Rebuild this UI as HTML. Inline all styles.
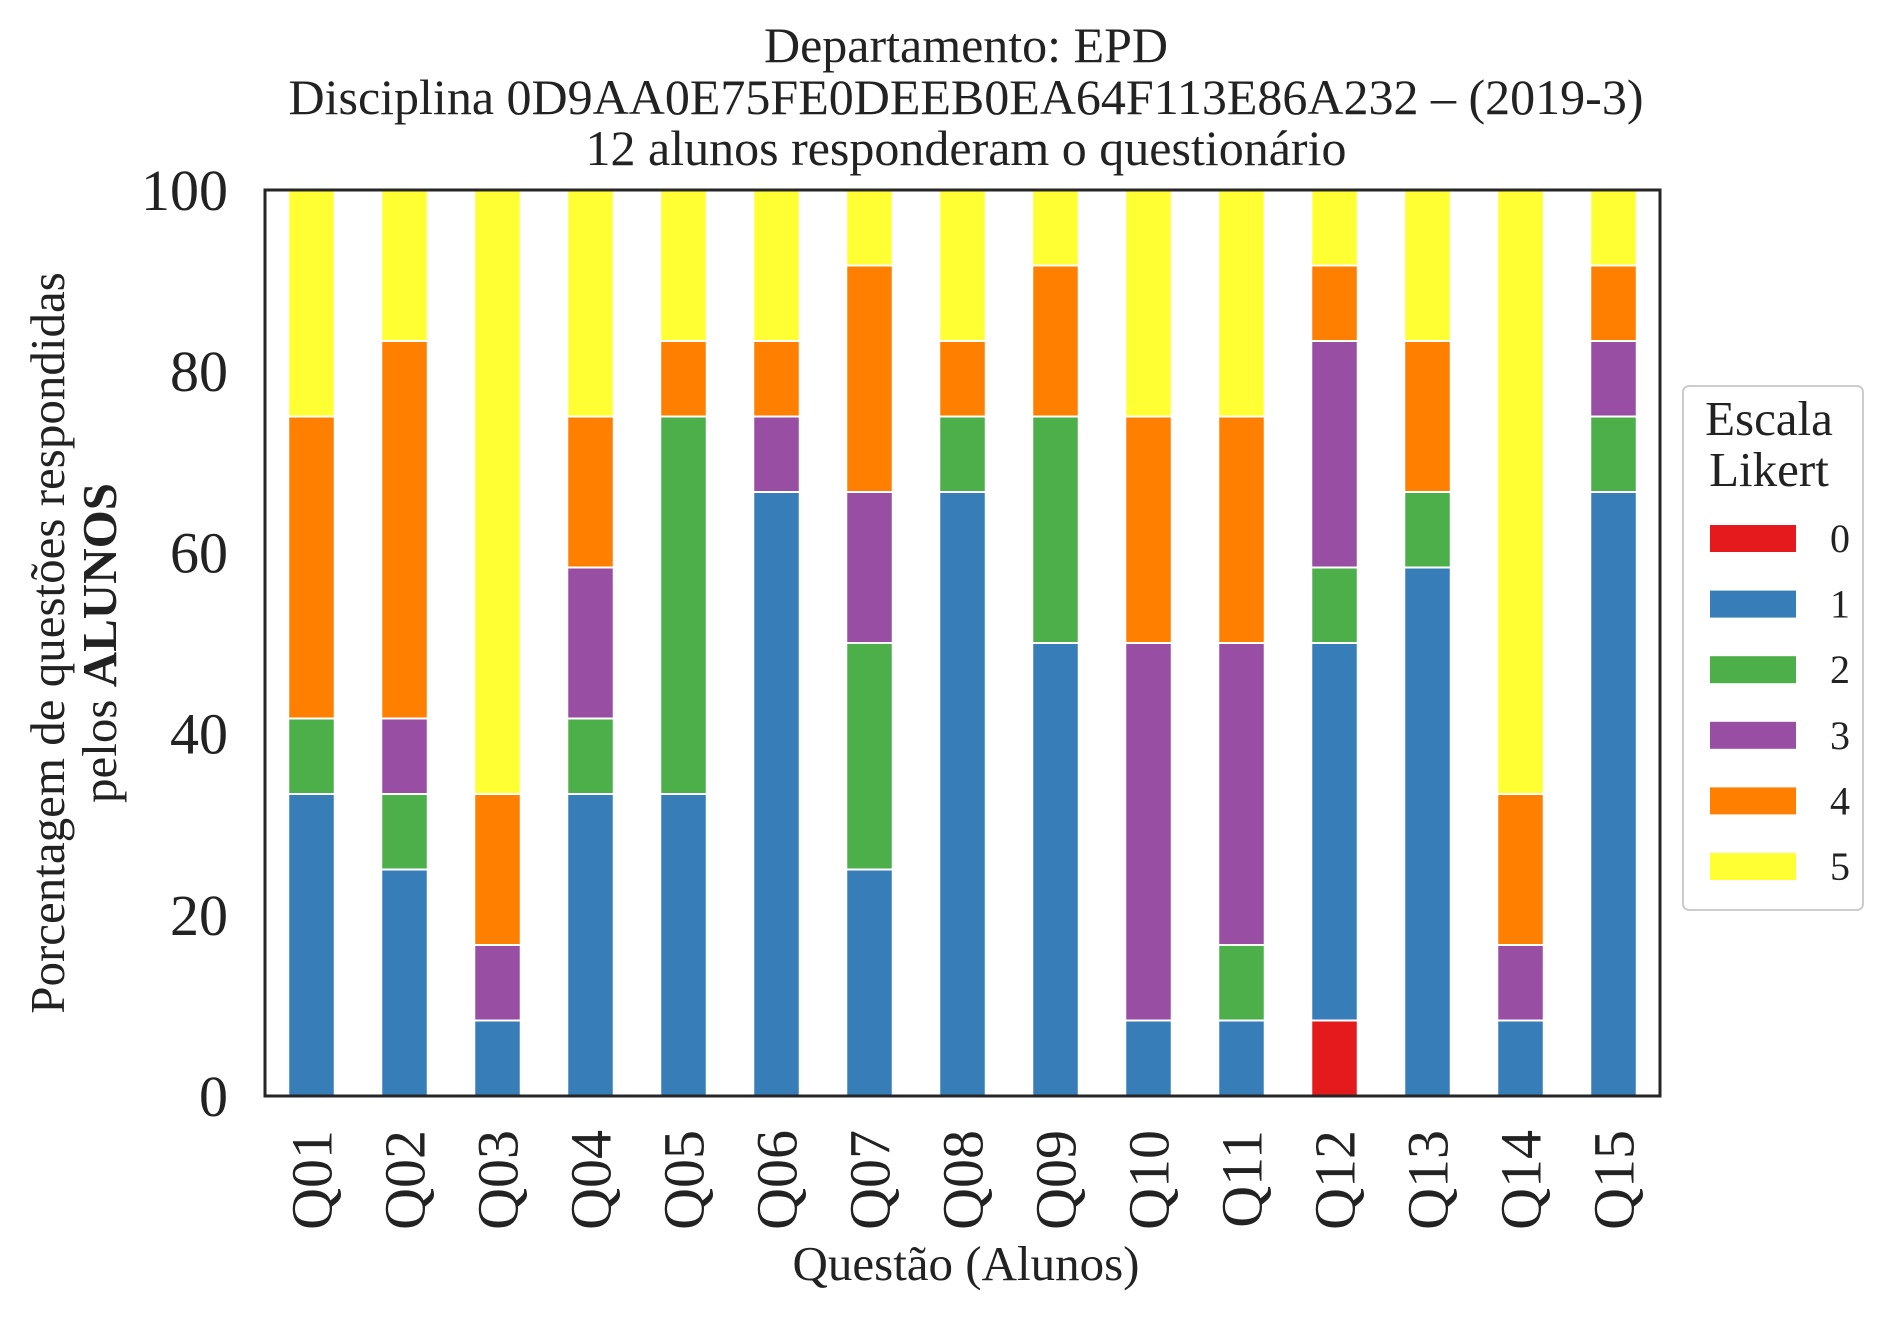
<!DOCTYPE html>
<html><head><meta charset="utf-8"><style>
body{margin:0;background:#fff}
svg text{font-family:"Liberation Serif",serif;fill:#222}
</style></head><body>
<svg id="chart" width="1892" height="1323" xmlns="http://www.w3.org/2000/svg">
<text x="966" y="62" font-size="50" text-anchor="middle">Departamento: EPD</text>
<text x="966" y="114" font-size="50" text-anchor="middle">Disciplina 0D9AA0E75FE0DEEB0EA64F113E86A232 – (2019-3)</text>
<text x="966" y="165" font-size="50" text-anchor="middle">12 alunos responderam o questionário</text>
<g id="bars"></g>
<g id="yticks"></g>
<g id="xticks"></g>
<rect x="265" y="190" width="1395" height="906" fill="none" stroke="#262626" stroke-width="3"/>
<text x="966" y="1280" font-size="49" text-anchor="middle">Questão (Alunos)</text>
<g transform="translate(0,643) rotate(-90)">
<text x="0" y="64" font-size="49" text-anchor="middle">Porcentagem de questões respondidas</text>
<text x="0" y="116" font-size="49" text-anchor="middle">pelos <tspan font-weight="bold">ALUNOS</tspan></text>
</g>
<g>
<rect x="1683" y="386" width="180" height="524" rx="6" fill="#fff" stroke="#ccc" stroke-width="2"/>
<text x="1769" y="435" font-size="49" text-anchor="middle">Escala</text>
<text x="1769" y="486" font-size="49" text-anchor="middle">Likert</text>
<g id="legend-items"></g>
</g>
</svg>
<script>
const categories=["Q01","Q02","Q03","Q04","Q05","Q06","Q07","Q08","Q09","Q10","Q11","Q12","Q13","Q14","Q15"];
const levels=["0","1","2","3","4","5"];
const s0=[0,0,0,0,0,0,0,0,0,0,0,1,0,0,0];
const s1=[4,3,1,4,4,8,3,8,6,1,1,5,7,1,8];
const s2=[1,1,0,1,5,0,3,1,3,0,1,1,1,0,1];
const s3=[0,1,1,2,0,1,2,0,0,5,4,3,0,1,1];
const s4=[4,5,2,2,1,1,3,1,2,3,3,1,2,2,1];
const s5=[3,2,8,3,2,2,1,2,1,3,3,1,2,8,1];
const nStudents=[12,12,12,12,12,12,12,12,12,12,12,12,12,12,12];
const yTicks=[0,20,40,60,80,100];
const colors=["#e41a1c","#377eb8","#4daf4a","#984ea3","#ff7f00","#ffff33"];
const series=[s0,s1,s2,s3,s4,s5];
const NS="http://www.w3.org/2000/svg";
const X0=265,X1=1660,Y0=1096,Y1=190;
const step=(X1-X0)/categories.length;
const xC=i=>X0+step*(i+0.5);
const yS=v=>Y0-(v/100)*(Y0-Y1);
const bars=document.getElementById('bars');
categories.forEach((c,i)=>{
  let cum=0;
  series.forEach((s,k)=>{
    const v=s[i]/nStudents[i]*100;
    if(v>0){
      const r=document.createElementNS(NS,'rect');
      
      
      r.setAttribute('x',xC(i)-step*0.25);r.setAttribute('width',step*0.5);
      r.setAttribute('y',yS(cum+v));r.setAttribute('height',yS(cum)-yS(cum+v));
      r.setAttribute('fill',colors[k]);r.setAttribute('stroke','#fff');r.setAttribute('stroke-width','2');
      bars.appendChild(r);
    }
    cum+=v;
  });
  const t=document.createElementNS(NS,'text');
  
  
  t.setAttribute('font-size','58');t.setAttribute('text-anchor','end');
  t.setAttribute('transform',`translate(${xC(i)+20},1130) rotate(-90)`);
  t.textContent=c;
  document.getElementById('xticks').appendChild(t);
});
yTicks.forEach(v=>{
  const t=document.createElementNS(NS,'text');
  
  
  t.setAttribute('x',228);t.setAttribute('y',yS(v)+20);
  t.setAttribute('font-size','58');t.setAttribute('text-anchor','end');
  t.textContent=v;
  document.getElementById('yticks').appendChild(t);
});
const li=document.getElementById('legend-items');
levels.forEach((l,k)=>{
  const y=538+k*65.6;
  const r=document.createElementNS(NS,'rect');
  
  
  r.setAttribute('x',1710);r.setAttribute('y',y-13);r.setAttribute('width',86);r.setAttribute('height',27);
  r.setAttribute('fill',colors[k]);
  li.appendChild(r);
  const t=document.createElementNS(NS,'text');
  
  
  t.setAttribute('x',1840);t.setAttribute('y',y+14);t.setAttribute('font-size','40');t.setAttribute('text-anchor','middle');
  t.textContent=l;
  li.appendChild(t);
});
</script>
</body></html>
